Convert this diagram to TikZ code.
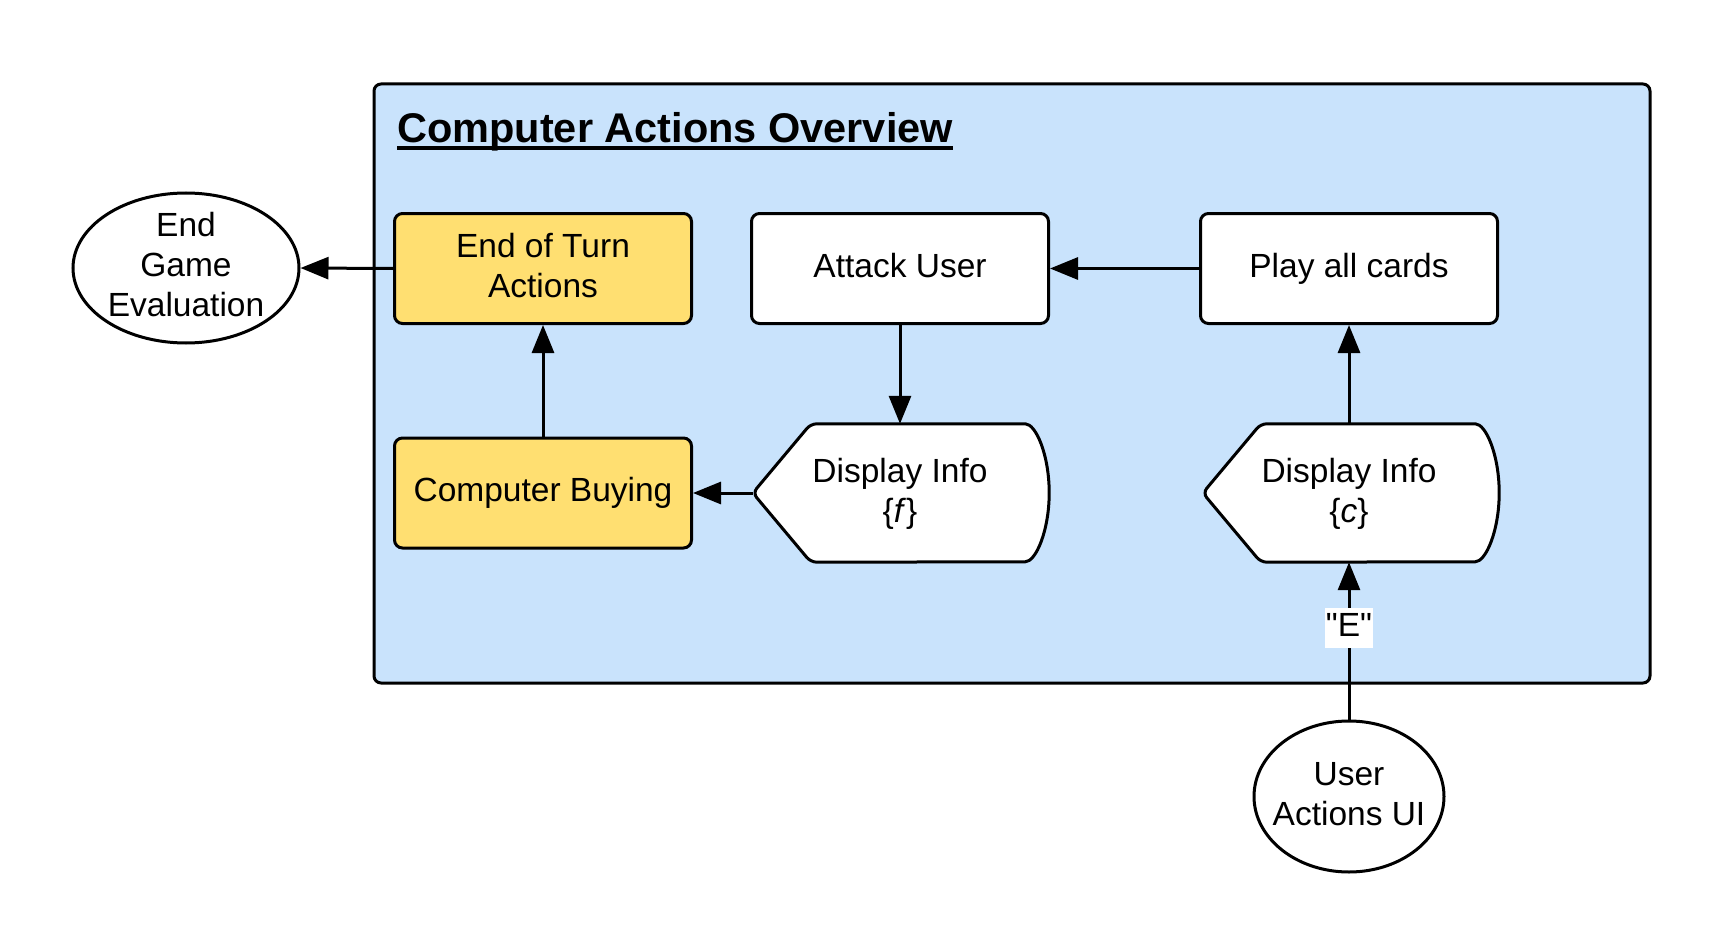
\documentclass[tikz,border=0pt]{standalone}
\usepackage{fontspec}
\setmainfont{Liberation Sans}
\newfontfamily\rawfont{Liberation Sans}[Ligatures=TeXOff]
\usetikzlibrary{arrows.meta,shapes.geometric,calc}
\definecolor{panelblue}{HTML}{C9E3FC}
\definecolor{actyellow}{HTML}{FFDF71}
\newcommand\lnst{\rule[-10pt]{0pt}{37pt}}
\tikzset{
  txt/.style={align=center, inner sep=0pt},
  box/.style={draw, line width=3pt, rounded corners=8pt, fill=white,
    minimum width=297pt, minimum height=110pt, txt},
  ybox/.style={box, fill=actyellow},
  oval/.style={draw, line width=3pt, ellipse, fill=white, inner sep=0pt},
  dispnode/.style={minimum width=296pt, minimum height=138pt, inner sep=0pt},
  displine/.style={draw, line width=3pt, fill=white, rounded corners=6pt},
  arr/.style={line width=3pt, -{Triangle[length=28pt,width=22pt]}},
  lbl/.style={fill=white, inner xsep=1pt, inner ysep=4pt, text height=24pt, text depth=8pt}
}
\begin{document}
\begin{tikzpicture}[x=1pt,y=-1pt, font=\fontsize{33.5}{40}\selectfont]
\useasboundingbox (0,0) rectangle (1725,947);
% container
\draw[line width=3pt, rounded corners=7pt, fill=panelblue] (374,84) rectangle (1650,683);
\node[anchor=base west, inner sep=0pt, font=\fontsize{41.5}{48}\selectfont\bfseries] (title) at (397,143) {Computer Actions Overview};
\draw[line width=3.5pt] ([yshift=-5pt]title.base west) -- ([yshift=-5pt]title.base east);

% nodes
\node[ybox] (eot) at (543,268.5) {\lnst End of Turn\\\lnst Actions};
\node[box] (attack) at (900,268.5) {\lnst Attack User};
\node[box] (play) at (1349,268.5) {\lnst Play all cards};
\node[ybox] (buy) at (543,493) {\lnst Computer Buying};
\node[dispnode] (dispf) at (901,493) {};
\node[dispnode] (dispc) at (1351,493) {};
\foreach \n in {dispf,dispc}{
  \path[displine] (\n.west) -- ($(\n.north west)+(58,0)$) -- ($(\n.north east)+(-30,0)$)
    arc[start angle=90, end angle=-90, x radius=30pt, y radius=69pt]
    -- ($(\n.south west)+(58,0)$) -- cycle;
}
\node[txt] (dispftext) at (900,494) {\lnst Display Info\\\lnst\{\textit{f}\}};
\node[txt] (dispctext) at (1349,494) {\lnst Display Info\\\lnst\{\textit{c}\}};
\node[oval, minimum width=226pt, minimum height=150pt] (endgame) at (186,268) {};
\node[txt] (endgametext) at (endgame) {\lnst End\\\lnst Game\\\lnst Evaluation};
\node[oval, minimum width=190pt, minimum height=151pt] (user) at (1349,796.5) {};
\node[txt] (usertext) at (user) {\lnst User\\\lnst Actions UI};

% connectors
\draw[arr] (eot.west) -- (endgame.east);
\draw[arr] (play.west) -- (attack.east);
\draw[arr] (attack.south) -- (attack.south |- dispf.north);
\draw[arr] (dispf.west) -- (buy.east);
\draw[arr] (buy.north) -- (eot.south);
\draw[arr] (play.south |- dispc.north) -- (play.south);
\draw[arr] (user.north) -- node[lbl, pos=0.58] (elbl) {\rawfont "E"} (user.north |- dispc.south);
\end{tikzpicture}
\end{document}
